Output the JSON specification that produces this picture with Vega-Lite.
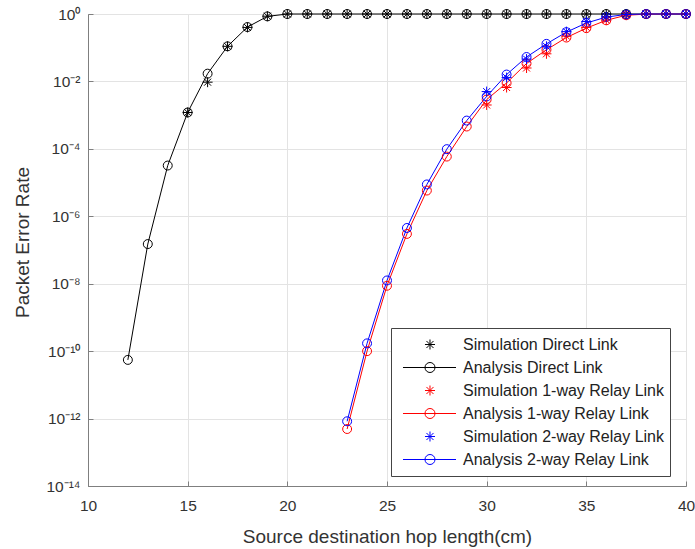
{
  "$schema": "https://vega.github.io/schema/vega-lite/v6.json",
  "width": 598,
  "height": 472,
  "autosize": {"type": "none"},
  "padding": {"left": 88, "top": 14, "right": 9, "bottom": 63},
  "background": "white",
  "config": {
    "font": "Liberation Sans",
    "view": {"stroke": "#7f7f7f", "strokeWidth": 1},
    "axis": {
      "grid": true,
      "gridColor": "#e3e3e3",
      "gridWidth": 1,
      "domainColor": "#7f7f7f",
      "tickColor": "#7f7f7f",
      "tickSize": -5,
      "labelColor": "#333333",
      "labelFontSize": 15.5,
      "labelFont": "Liberation Sans",
      "titleFont": "Liberation Sans",
      "titleFontSize": 19,
      "titleFontWeight": "normal",
      "titleColor": "#333333",
      "labelFlush": false,
      "labelOverlap": false
    }
  },
  "datasets": {
    "pts": [
      {"x": 12, "y": 5.5e-11, "s": "Analysis Direct Link"},
      {"x": 13, "y": 1.5e-7, "s": "Analysis Direct Link"},
      {"x": 14, "y": 3.2e-5, "s": "Analysis Direct Link"},
      {"x": 15, "y": 1.2e-3, "s": "Analysis Direct Link"},
      {"x": 16, "y": 0.017, "s": "Analysis Direct Link"},
      {"x": 17, "y": 0.11, "s": "Analysis Direct Link"},
      {"x": 18, "y": 0.41, "s": "Analysis Direct Link"},
      {"x": 19, "y": 0.85, "s": "Analysis Direct Link"},
      {"x": 20, "y": 1, "s": "Analysis Direct Link"},
      {"x": 21, "y": 1, "s": "Analysis Direct Link"},
      {"x": 22, "y": 1, "s": "Analysis Direct Link"},
      {"x": 23, "y": 1, "s": "Analysis Direct Link"},
      {"x": 24, "y": 1, "s": "Analysis Direct Link"},
      {"x": 25, "y": 1, "s": "Analysis Direct Link"},
      {"x": 26, "y": 1, "s": "Analysis Direct Link"},
      {"x": 27, "y": 1, "s": "Analysis Direct Link"},
      {"x": 28, "y": 1, "s": "Analysis Direct Link"},
      {"x": 29, "y": 1, "s": "Analysis Direct Link"},
      {"x": 30, "y": 1, "s": "Analysis Direct Link"},
      {"x": 31, "y": 1, "s": "Analysis Direct Link"},
      {"x": 32, "y": 1, "s": "Analysis Direct Link"},
      {"x": 33, "y": 1, "s": "Analysis Direct Link"},
      {"x": 34, "y": 1, "s": "Analysis Direct Link"},
      {"x": 35, "y": 1, "s": "Analysis Direct Link"},
      {"x": 36, "y": 1, "s": "Analysis Direct Link"},
      {"x": 37, "y": 1, "s": "Analysis Direct Link"},
      {"x": 38, "y": 1, "s": "Analysis Direct Link"},
      {"x": 39, "y": 1, "s": "Analysis Direct Link"},
      {"x": 40, "y": 1, "s": "Analysis Direct Link"},

      {"x": 15, "y": 1.2e-3, "s": "Simulation Direct Link"},
      {"x": 16, "y": 0.0095, "s": "Simulation Direct Link"},
      {"x": 17, "y": 0.11, "s": "Simulation Direct Link"},
      {"x": 18, "y": 0.40, "s": "Simulation Direct Link"},
      {"x": 19, "y": 0.86, "s": "Simulation Direct Link"},
      {"x": 20, "y": 1, "s": "Simulation Direct Link"},
      {"x": 21, "y": 1, "s": "Simulation Direct Link"},
      {"x": 22, "y": 1, "s": "Simulation Direct Link"},
      {"x": 23, "y": 1, "s": "Simulation Direct Link"},
      {"x": 24, "y": 1, "s": "Simulation Direct Link"},
      {"x": 25, "y": 1, "s": "Simulation Direct Link"},
      {"x": 26, "y": 1, "s": "Simulation Direct Link"},
      {"x": 27, "y": 1, "s": "Simulation Direct Link"},
      {"x": 28, "y": 1, "s": "Simulation Direct Link"},
      {"x": 29, "y": 1, "s": "Simulation Direct Link"},
      {"x": 30, "y": 1, "s": "Simulation Direct Link"},
      {"x": 31, "y": 1, "s": "Simulation Direct Link"},
      {"x": 32, "y": 1, "s": "Simulation Direct Link"},
      {"x": 33, "y": 1, "s": "Simulation Direct Link"},
      {"x": 34, "y": 1, "s": "Simulation Direct Link"},
      {"x": 35, "y": 1, "s": "Simulation Direct Link"},
      {"x": 36, "y": 1, "s": "Simulation Direct Link"},
      {"x": 37, "y": 1, "s": "Simulation Direct Link"},
      {"x": 38, "y": 1, "s": "Simulation Direct Link"},
      {"x": 39, "y": 1, "s": "Simulation Direct Link"},
      {"x": 40, "y": 1, "s": "Simulation Direct Link"},

      {"x": 23, "y": 4.9e-13, "s": "Analysis 1-way Relay Link"},
      {"x": 24, "y": 1.0e-10, "s": "Analysis 1-way Relay Link"},
      {"x": 25, "y": 8.7e-9, "s": "Analysis 1-way Relay Link"},
      {"x": 26, "y": 3.0e-7, "s": "Analysis 1-way Relay Link"},
      {"x": 27, "y": 5.8e-6, "s": "Analysis 1-way Relay Link"},
      {"x": 28, "y": 5.9e-5, "s": "Analysis 1-way Relay Link"},
      {"x": 29, "y": 4.6e-4, "s": "Analysis 1-way Relay Link"},
      {"x": 30, "y": 2.9e-3, "s": "Analysis 1-way Relay Link"},
      {"x": 31, "y": 0.009, "s": "Analysis 1-way Relay Link"},
      {"x": 32, "y": 0.034, "s": "Analysis 1-way Relay Link"},
      {"x": 33, "y": 0.087, "s": "Analysis 1-way Relay Link"},
      {"x": 34, "y": 0.20, "s": "Analysis 1-way Relay Link"},
      {"x": 35, "y": 0.38, "s": "Analysis 1-way Relay Link"},
      {"x": 36, "y": 0.65, "s": "Analysis 1-way Relay Link"},
      {"x": 37, "y": 0.92, "s": "Analysis 1-way Relay Link"},
      {"x": 38, "y": 0.99, "s": "Analysis 1-way Relay Link"},
      {"x": 39, "y": 1, "s": "Analysis 1-way Relay Link"},
      {"x": 40, "y": 1, "s": "Analysis 1-way Relay Link"},

      {"x": 30, "y": 2.0e-3, "s": "Simulation 1-way Relay Link"},
      {"x": 31, "y": 0.0066, "s": "Simulation 1-way Relay Link"},
      {"x": 32, "y": 0.025, "s": "Simulation 1-way Relay Link"},
      {"x": 33, "y": 0.066, "s": "Simulation 1-way Relay Link"},
      {"x": 34, "y": 0.22, "s": "Simulation 1-way Relay Link"},
      {"x": 35, "y": 0.40, "s": "Simulation 1-way Relay Link"},
      {"x": 36, "y": 0.66, "s": "Simulation 1-way Relay Link"},
      {"x": 37, "y": 0.93, "s": "Simulation 1-way Relay Link"},
      {"x": 38, "y": 1, "s": "Simulation 1-way Relay Link"},
      {"x": 39, "y": 1, "s": "Simulation 1-way Relay Link"},
      {"x": 40, "y": 1, "s": "Simulation 1-way Relay Link"},

      {"x": 23, "y": 8.3e-13, "s": "Analysis 2-way Relay Link"},
      {"x": 24, "y": 1.7e-10, "s": "Analysis 2-way Relay Link"},
      {"x": 25, "y": 1.25e-8, "s": "Analysis 2-way Relay Link"},
      {"x": 26, "y": 4.5e-7, "s": "Analysis 2-way Relay Link"},
      {"x": 27, "y": 8.8e-6, "s": "Analysis 2-way Relay Link"},
      {"x": 28, "y": 9.8e-5, "s": "Analysis 2-way Relay Link"},
      {"x": 29, "y": 6.9e-4, "s": "Analysis 2-way Relay Link"},
      {"x": 30, "y": 3.6e-3, "s": "Analysis 2-way Relay Link"},
      {"x": 31, "y": 0.016, "s": "Analysis 2-way Relay Link"},
      {"x": 32, "y": 0.053, "s": "Analysis 2-way Relay Link"},
      {"x": 33, "y": 0.13, "s": "Analysis 2-way Relay Link"},
      {"x": 34, "y": 0.29, "s": "Analysis 2-way Relay Link"},
      {"x": 35, "y": 0.54, "s": "Analysis 2-way Relay Link"},
      {"x": 36, "y": 0.81, "s": "Analysis 2-way Relay Link"},
      {"x": 37, "y": 0.97, "s": "Analysis 2-way Relay Link"},
      {"x": 38, "y": 1, "s": "Analysis 2-way Relay Link"},
      {"x": 39, "y": 1, "s": "Analysis 2-way Relay Link"},
      {"x": 40, "y": 1, "s": "Analysis 2-way Relay Link"},

      {"x": 30, "y": 5.0e-3, "s": "Simulation 2-way Relay Link"},
      {"x": 31, "y": 0.013, "s": "Simulation 2-way Relay Link"},
      {"x": 32, "y": 0.046, "s": "Simulation 2-way Relay Link"},
      {"x": 33, "y": 0.11, "s": "Simulation 2-way Relay Link"},
      {"x": 34, "y": 0.30, "s": "Simulation 2-way Relay Link"},
      {"x": 35, "y": 0.60, "s": "Simulation 2-way Relay Link"},
      {"x": 36, "y": 0.82, "s": "Simulation 2-way Relay Link"},
      {"x": 37, "y": 0.97, "s": "Simulation 2-way Relay Link"},
      {"x": 38, "y": 1, "s": "Simulation 2-way Relay Link"},
      {"x": 39, "y": 1, "s": "Simulation 2-way Relay Link"},
      {"x": 40, "y": 1, "s": "Simulation 2-way Relay Link"}
    ]
  },
  "data": {"name": "pts"},
  "encoding": {
    "x": {
      "field": "x",
      "type": "quantitative",
      "scale": {"domain": [10, 40], "nice": false, "zero": false},
      "axis": {
        "title": "Source destination hop length(cm)",
        "values": [10, 15, 20, 25, 30, 35, 40],
        "labelPadding": 17,
        "titleBaseline": "alphabetic",
        "titleY": 56
      }
    },
    "y": {
      "field": "y",
      "type": "quantitative",
      "scale": {"type": "log", "domain": [1e-14, 1], "nice": false},
      "axis": {
        "title": "Packet Error Rate",
        "values": [1e-14, 1e-12, 1e-10, 1e-8, 1e-6, 1e-4, 1e-2, 1],
        "labelPadding": 13,
        "labelExpr": "'10' + replace(replace(replace(replace(replace(replace(replace(toString(round(log(datum.value)/LN10)),'-','⁻'),'0','⁰'),'1','¹'),'2','²'),'4','⁴'),'6','⁶'),'8','⁸')",
        "titleBaseline": "alphabetic",
        "titleAlign": "center",
        "titleAngle": -90,
        "titleX": -60,
        "titleY": 228
      }
    },
    "color": {
      "field": "s",
      "type": "nominal",
      "scale": {
        "domain": ["Simulation Direct Link", "Analysis Direct Link", "Simulation 1-way Relay Link", "Analysis 1-way Relay Link", "Simulation 2-way Relay Link", "Analysis 2-way Relay Link"],
        "range": ["#000000", "#000000", "#ff0000", "#ff0000", "#0000ff", "#0000ff"]
      },
      "legend": {
        "orient": "none",
        "legendX": 303,
        "legendY": 314,
        "title": null,
        "padding": 6,
        "strokeColor": "#444444",
        "fillColor": "white",
        "clipHeight": 21,
        "rowPadding": 2,
        "labelFontSize": 16,
        "labelFont": "Liberation Sans",
        "labelColor": "#222222",
        "labelOffset": 5,
        "labelLimit": 400,
        "symbolSize": 3600,
        "symbolStrokeWidth": 1,
        "encode": {
          "symbols": {
            "update": {
              "shape": {"signal": "indexof(datum.value, 'Analysis') == 0 ? 'M-0.817,0L0.95,0M0.25,0A0.167,0.167 0 1,1 -0.084,0A0.167,0.167 0 1,1 0.25,0' : 'M0.083,-0.167L0.083,0.167M-0.084,0L0.25,0M-0.035,-0.118L0.201,0.118M-0.035,0.118L0.201,-0.118'"},
              "size": {"value": 3600},
              "strokeWidth": {"value": 1},
              "fill": {"value": "transparent"},
              "opacity": {"value": 1}
            }
          }
        }
      }
    }
  },
  "layer": [
    {
      "transform": [{"filter": "indexof(datum.s, 'Analysis') == 0"}],
      "mark": {"type": "line", "strokeWidth": 1}
    },
    {
      "transform": [{"filter": "indexof(datum.s, 'Analysis') == 0"}],
      "mark": {"type": "point", "shape": "circle", "filled": false, "size": 80, "strokeWidth": 1, "opacity": 1}
    },
    {
      "transform": [{"filter": "indexof(datum.s, 'Simulation') == 0"}],
      "mark": {"type": "point", "shape": "M0,-1L0,1M-1,0L1,0M-0.7,-0.7L0.7,0.7M-0.7,0.7L0.7,-0.7", "filled": false, "size": 100, "strokeWidth": 1, "opacity": 1}
    }
  ]
}
